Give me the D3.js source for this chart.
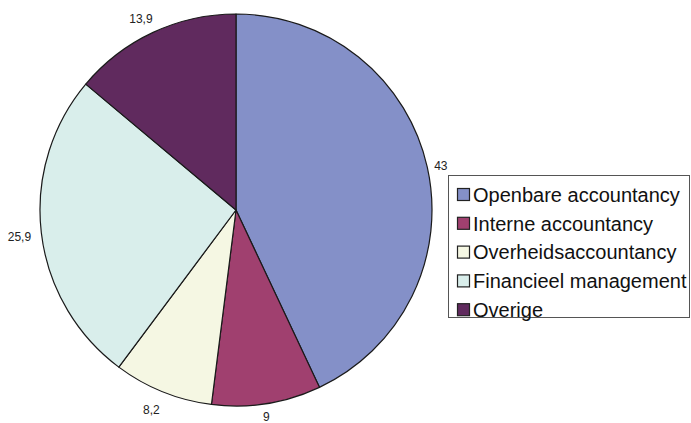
<!DOCTYPE html>
<html>
<head>
<meta charset="utf-8">
<script src="https://cdn.jsdelivr.net/npm/d3@7"></script>
<style>
  html, body { margin: 0; padding: 0; background: #fff; }
  svg { display: block; font-family: "Liberation Sans", Arial, sans-serif; }
</style>
</head>
<body>
<svg id="chart" width="691" height="423"></svg>
<script>
// Share of respondents per field of work (percent)
const categories = ["Openbare accountancy", "Interne accountancy", "Overheidsaccountancy", "Financieel management", "Overige"];
const values = [43, 9, 8.2, 25.9, 13.9];
const valueLabels = ["43", "9", "8,2", "25,9", "13,9"];
const colors = ["#8490C8", "#A0406F", "#F5F7E3", "#D9EEEB", "#602A5E"];

const svg = d3.select("#chart");
const width = 691, height = 423;
const cx = 236, cy = 210, radius = 196;

const data = categories.map((c, i) => ({ name: c, value: values[i], label: valueLabels[i], color: colors[i] }));

const pie = d3.pie().value(d => d.value).sort(null);
const arcs = pie(data);
const arc = d3.arc().innerRadius(0).outerRadius(radius);
const labelArc = d3.arc().innerRadius(radius + 17).outerRadius(radius + 17);

const g = svg.append("g").attr("transform", `translate(${cx},${cy})`);

g.selectAll("path.slice")
  .data(arcs)
  .join("path")
  .attr("class", "slice")
  .attr("d", arc)
  .attr("fill", d => d.data.color)
  .attr("stroke", "#1a1a1a")
  .attr("stroke-width", 1.2)
  .attr("stroke-linejoin", "round");

// Value labels just outside each slice; on the left half they hang toward the left
g.selectAll("text.val")
  .data(arcs)
  .join("text")
  .attr("class", "val")
  .attr("transform", d => {
    const [x, y] = labelArc.centroid(d);
    const mid = (d.startAngle + d.endAngle) / 2;
    const dx = Math.sin(mid) < 0 ? -5 : -3;
    const yy = Math.min(y + 2, height - cy - 6);
    return `translate(${x + dx},${yy})`;
  })
  .attr("text-anchor", "middle")
  .attr("dy", "0.35em")
  .attr("font-size", 12)
  .attr("fill", "#222")
  .text(d => d.data.label);

// Legend
const legend = svg.append("g").attr("transform", "translate(448,175)");
legend.append("rect")
  .attr("x", 0.5).attr("y", 0.5)
  .attr("width", 241).attr("height", 142)
  .attr("fill", "#fff")
  .attr("stroke", "#555")
  .attr("stroke-width", 1);

const items = legend.selectAll("g.item")
  .data(data)
  .join("g")
  .attr("class", "item")
  .attr("transform", (d, i) => `translate(0,${19.5 + i * 28.8})`);

items.append("rect")
  .attr("x", 9.5).attr("y", -6)
  .attr("width", 12).attr("height", 12)
  .attr("fill", d => d.color)
  .attr("stroke", "#222")
  .attr("stroke-width", 1.2);

items.append("text")
  .attr("x", 25)
  .attr("y", 0)
  .attr("dy", "0.36em")
  .attr("font-size", 20)
  .attr("fill", "#111")
  .text(d => d.name);
</script>
</body>
</html>
